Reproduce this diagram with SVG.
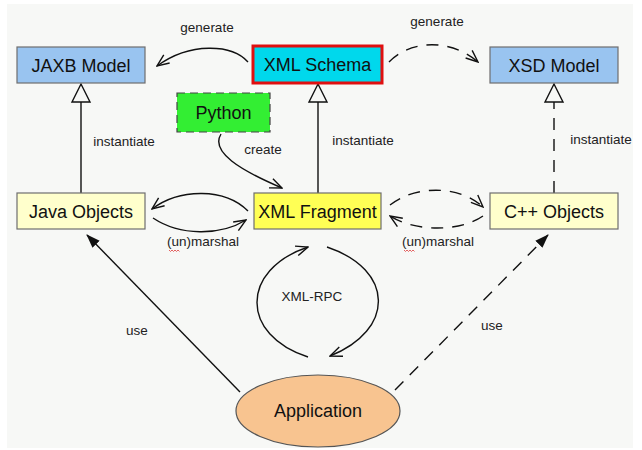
<svg xmlns="http://www.w3.org/2000/svg" width="642" height="450" viewBox="0 0 642 450">
<defs>
<style>
.box{stroke:#6e6e6e;stroke-width:1.2}
.lbl{font-family:"Liberation Sans",Arial,sans-serif;font-size:18px;fill:#111;text-anchor:middle}
.el{font-family:"Liberation Sans",Arial,sans-serif;font-size:13.5px;fill:#222;text-anchor:middle}
.ln{fill:none;stroke:#111;stroke-width:1.4}
.dash{stroke-dasharray:12,9}
.tri{fill:#f7f8f6;stroke:#111;stroke-width:1.4}
.wavy{fill:none;stroke:#e05050;stroke-width:0.9}
</style>
<marker id="open" viewBox="0 0 14 12" refX="13" refY="6" markerWidth="14" markerHeight="12" markerUnits="userSpaceOnUse" orient="auto">
<path d="M1,1 L13,6 L1,11" fill="none" stroke="#111" stroke-width="1.4"/>
</marker>
<marker id="filled" viewBox="0 0 14 12" refX="13" refY="6" markerWidth="14" markerHeight="12" markerUnits="userSpaceOnUse" orient="auto">
<path d="M0,1 L14,6 L0,11 Z" fill="#111"/>
</marker>
</defs>
<rect x="0" y="0" width="642" height="450" fill="#ffffff"/>
<rect x="7" y="4" width="626" height="444" fill="#f7f8f6"/>

<g id="connectors">
<path class="ln" d="M248,62 C232,44 190,42 157,66" marker-end="url(#open)"/>
<path class="ln dash" d="M389,62 C410,40 450,38 478,62" marker-end="url(#open)"/>
<path class="ln" d="M221,134 C210,152 240,170 282,188" marker-end="url(#open)"/>
<path class="ln" d="M248,211 C225,188 180,188 152,209" marker-end="url(#open)"/>
<path class="ln" d="M153,218 C180,236 220,236 246,220" marker-end="url(#open)"/>
<path class="ln dash" d="M390,205 C415,185 460,185 483,207" marker-end="url(#open)"/>
<path class="ln dash" d="M483,216 C460,232 415,232 390,216" marker-end="url(#open)"/>
<path class="ln" d="M308,357 C240,335 240,270 308,247" marker-end="url(#open)"/>
<path class="ln" d="M327,247 C395,270 395,330 330,356" marker-end="url(#open)"/>
<path class="ln" d="M240,392 L87,235" marker-end="url(#filled)"/>
<path class="ln dash" d="M395,390 L548,235" marker-end="url(#filled)"/>
<line class="ln" x1="81" y1="193" x2="81" y2="102"/>
<polygon class="tri" points="81,84 72,102 90,102"/>
<line class="ln" x1="318" y1="193" x2="318" y2="102"/>
<polygon class="tri" points="318,84 309,102 327,102"/>
<line class="ln dash" x1="554" y1="193" x2="554" y2="102"/>
<polygon class="tri" points="554,84 545,102 563,102"/>
<text class="el" x="207" y="32">generate</text>
<text class="el" x="437" y="26">generate</text>
<text class="el" x="124" y="146">instantiate</text>
<text class="el" x="363" y="145">instantiate</text>
<text class="el" x="601" y="144">instantiate</text>
<text class="el" x="263" y="154">create</text>
<text class="el" x="203" y="246">(un)marshal</text>
<text class="el" x="438" y="246">(un)marshal</text>
<path class="wavy" d="M169,250 l1.5,1.5 l1.5,-1.5 l1.5,1.5 l1.5,-1.5 l1.5,1.5 l1.5,-1.5 l1.5,1.5"/>
<path class="wavy" d="M404,250 l1.5,1.5 l1.5,-1.5 l1.5,1.5 l1.5,-1.5 l1.5,1.5 l1.5,-1.5 l1.5,1.5"/>
<text class="el" x="312" y="301">XML-RPC</text>
<text class="el" x="137" y="335">use</text>
<text class="el" x="492" y="330">use</text>
</g>

<g id="jaxb-model">
<rect class="box" x="17" y="47" width="128" height="36" fill="#99c4f0"/>
<text class="lbl" x="81" y="71.5">JAXB Model</text>
</g>
<g id="xml-schema">
<rect x="253" y="46" width="129" height="37" fill="#00d8ec" stroke="#e01010" stroke-width="3"/>
<text class="lbl" x="317.5" y="71">XML Schema</text>
</g>
<g id="xsd-model">
<rect class="box" x="490" y="47" width="128" height="36" fill="#99c4f0"/>
<text class="lbl" x="554" y="71.5">XSD Model</text>
</g>
<g id="python">
<rect x="177" y="93" width="93" height="39" fill="#33ee33" stroke="#444" stroke-width="1.2" stroke-dasharray="8,5"/>
<text class="lbl" x="223.5" y="119">Python</text>
</g>
<g id="java-objects">
<rect class="box" x="17" y="193" width="128" height="36" fill="#ffffcc"/>
<text class="lbl" x="81" y="217.5">Java Objects</text>
</g>
<g id="xml-fragment">
<rect class="box" x="254" y="193" width="127" height="36" fill="#ffff55"/>
<text class="lbl" x="317.5" y="217.5">XML Fragment</text>
</g>
<g id="cpp-objects">
<rect class="box" x="490" y="193" width="128" height="36" fill="#ffffcc"/>
<text class="lbl" x="554" y="217.5">C++ Objects</text>
</g>
<g id="application">
<ellipse cx="318" cy="411" rx="82" ry="36" fill="#f8c490" stroke="#555" stroke-width="1.2"/>
<text class="lbl" x="318" y="417">Application</text>
</g>
</svg>
